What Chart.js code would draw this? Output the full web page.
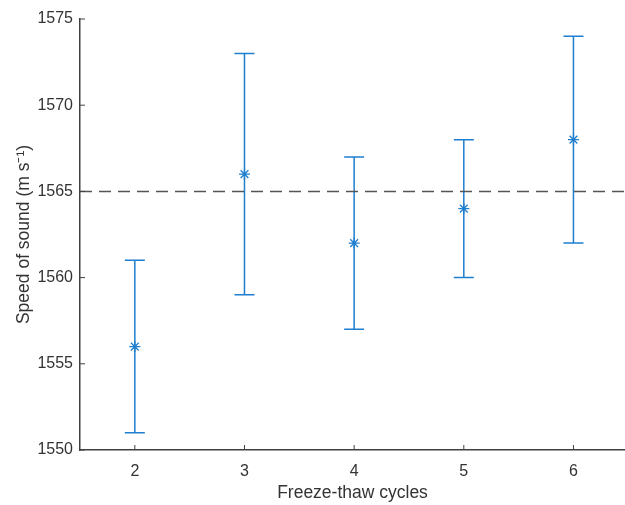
<!DOCTYPE html>
<html lang="en">
<head>
  <meta charset="UTF-8">
  <title>Speed of sound vs freeze-thaw cycles</title>
  <script src="https://cdn.jsdelivr.net/npm/chart.js"></script>
  <style>
    body { margin: 0; background: #fff; }
    #wrap { width: 625px; height: 505px; }
  </style>
</head>
<body>
  <div id="wrap"><canvas id="speedChart" width="625" height="505"></canvas></div>

  <script>
    // data
    const cycles = [2, 3, 4, 5, 6];
    const meanSpeed = [1556, 1566, 1562, 1564, 1568];
    const lowerSpeed = [1551, 1559, 1557, 1560, 1562];
    const upperSpeed = [1561, 1573, 1567, 1568, 1574];
    const referenceSpeed = 1565;
    const xRange = [1.5, 6.47];
    const yTicks = [1550, 1555, 1560, 1565, 1570, 1575];

    const blue = '#1f7fcf';
    const axisColor = '#404040';
    const font = 'Liberation Sans, Arial, Helvetica, sans-serif';

    // error bars + inward tick marks
    const errorBars = {
      id: 'errorBars',
      beforeDatasetsDraw(chart) {
        const { ctx, scales: { x, y } } = chart;
        ctx.save();
        ctx.strokeStyle = blue;
        ctx.lineWidth = 1.5;
        cycles.forEach((c, i) => {
          const px = x.getPixelForValue(c);
          const top = y.getPixelForValue(upperSpeed[i]);
          const bot = y.getPixelForValue(lowerSpeed[i]);
          ctx.beginPath();
          ctx.moveTo(px, top); ctx.lineTo(px, bot);
          ctx.moveTo(px - 10, top); ctx.lineTo(px + 10, top);
          ctx.moveTo(px - 10, bot); ctx.lineTo(px + 10, bot);
          ctx.stroke();
        });
        ctx.restore();
      },
      afterDraw(chart) {
        const { ctx, chartArea, scales: { x, y } } = chart;
        ctx.save();
        ctx.strokeStyle = axisColor;
        ctx.lineWidth = 1;
        ctx.beginPath();
        cycles.forEach(c => {
          const px = x.getPixelForValue(c);
          ctx.moveTo(px, chartArea.bottom); ctx.lineTo(px, chartArea.bottom - 5);
        });
        yTicks.forEach(v => {
          const py = y.getPixelForValue(v);
          ctx.moveTo(chartArea.left, py); ctx.lineTo(chartArea.left + 5, py);
        });
        ctx.stroke();
        ctx.restore();
      }
    };

    const ctx = document.getElementById('speedChart').getContext('2d');
    new Chart(ctx, {
      type: 'scatter',
      data: {
        datasets: [
          {
            label: 'Reference',
            type: 'line',
            data: xRange.map(v => ({ x: v, y: referenceSpeed })),
            borderColor: '#555555',
            borderWidth: 1.5,
            borderDash: [12, 7],
            pointRadius: 0,
            fill: false
          },
          {
            label: 'Speed of sound',
            data: cycles.map((c, i) => ({ x: c, y: meanSpeed[i] })),
            pointStyle: 'star',
            pointRadius: 5.5,
            borderColor: blue,
            backgroundColor: blue,
            pointBorderWidth: 1.3
          }
        ]
      },
      options: {
        responsive: false,
        animation: false,
        layout: { autoPadding: false, padding: { top: 19, right: 0, left: 10, bottom: 0 } },
        plugins: {
          legend: { display: false },
          tooltip: { enabled: false }
        },
        scales: {
          x: {
            type: 'linear',
            min: xRange[0],
            max: xRange[1],
            afterBuildTicks: scale => { scale.ticks = cycles.map(v => ({ value: v })); },
            afterFit: scale => {
              scale.height = 55;
              scale.paddingRight = 0;
              scale.paddingLeft = 0;
            },
            grid: { display: false, drawTicks: false },
            border: { display: true, color: axisColor, width: 1.5 },
            ticks: { color: '#333', font: { family: font, size: 16 }, padding: 12 },
            title: {
              display: true,
              text: 'Freeze-thaw cycles',
              color: '#333',
              font: { family: font, size: 17.5 },
              padding: { top: 0, bottom: 1 }
            }
          },
          y: {
            min: 1550,
            max: 1575,
            afterBuildTicks: scale => { scale.ticks = yTicks.map(v => ({ value: v })); },
            afterFit: scale => { scale.width = 70; },
            grid: { display: false, drawTicks: false },
            border: { display: true, color: axisColor, width: 1.5 },
            ticks: {
              color: '#333',
              font: { family: font, size: 16 },
              padding: 7,
              callback: v => String(v)
            },
            title: {
              display: true,
              text: 'Speed of sound (m s\u207B\u00B9)',
              color: '#333',
              font: { family: font, size: 17.5 },
              padding: { bottom: 0 }
            }
          }
        }
      },
      plugins: [errorBars]
    });
  </script>
</body>
</html>
